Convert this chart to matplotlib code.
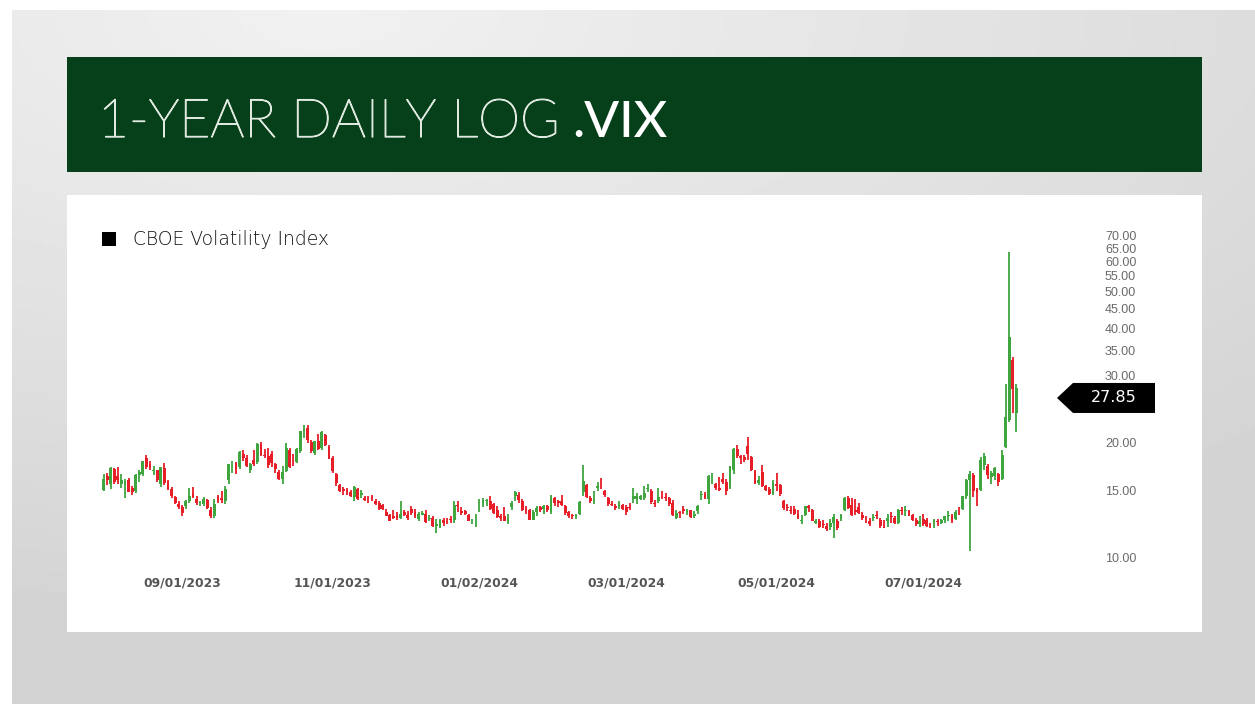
import numpy as np
import pandas as pd
import matplotlib
matplotlib.use("Agg")
import matplotlib.pyplot as plt
import matplotlib.patheffects as pe
from matplotlib.patches import Rectangle, Polygon

# ------------------------------------------------------------
# DATA  (daily OHLC of .VIX, Aug 2023 - Aug 2024)
# ------------------------------------------------------------

START = "2023-08-02"
END = "2024-08-07"
HOLIDAYS = ["2023-09-04", "2023-11-23", "2023-12-25", "2024-01-01", "2024-01-15",
            "2024-02-19", "2024-03-29", "2024-05-27", "2024-06-19", "2024-07-04"]

OPEN = [
    # Aug 2023
    15.0, 16.3, 15.6, 17.0, 16.3, 15.6, 15.5, 15.9, 15.2, 14.9, 16.4, 16.5, 18.2, 17.6, 16.8, 16.9, 15.6, 17.1, 15.8, 15.1, 14.4, 13.8,
    # Sep
    13.5, 13.6, 14.0, 14.7, 14.2, 13.8, 13.8, 14.1, 13.3, 12.8, 14.4, 14.3, 14.0, 15.9, 17.2, 17.7, 17.2, 18.7, 18.2, 16.9,
    # Oct
    18.0, 17.8, 19.7, 18.5, 18.4, 18.7, 17.6, 16.7, 16.0, 16.8, 19.1, 17.9, 17.8, 19.0, 21.5, 21.9, 20.1, 18.8, 20.2, 19.3, 21.0, 19.5,
    # Nov
    18.2, 16.5, 15.5, 15.1, 15.0, 14.8, 14.4, 15.1, 14.6, 14.3, 14.2, 14.4, 14.0, 13.9, 13.7, 13.1, 12.9, 12.8, 12.9, 12.7, 13.1,
    # Dec
    12.9, 13.4, 13.1, 12.6, 12.9, 13.0, 12.6, 12.7, 12.1, 12.0, 12.5, 12.6, 12.6, 12.5, 13.7, 13.2, 13.2, 12.9, 12.4, 12.4,
    # Jan 2024
    13.2, 13.9, 14.0, 14.0, 13.8, 13.3, 12.8, 12.8, 12.4, 13.5, 14.5, 14.6, 14.0, 13.3, 13.3, 12.5, 13.1, 13.5, 13.4, 13.6, 13.1,
    # Feb
    14.3, 14.0, 14.0, 13.6, 13.1, 12.9, 12.8, 13.0, 14.8, 15.5, 14.3, 14.0, 15.2, 15.4, 14.9, 14.3, 13.8, 13.6, 13.6, 13.7,
    # Mar
    13.5, 13.5, 14.2, 14.2, 14.2, 14.3, 15.1, 14.9, 13.9, 14.0, 14.5, 14.4, 14.3, 13.9, 12.7, 13.1, 13.4, 13.1, 13.3, 12.8,
    # Apr
    13.2, 14.6, 14.6, 14.2, 16.0, 15.6, 15.2, 16.0, 15.8, 15.3, 16.9, 19.2, 18.4, 18.3, 19.6, 18.3, 16.8, 15.7, 16.7, 15.4, 15.1, 14.7,
    # May
    15.6, 15.5, 14.0, 13.5, 13.3, 13.4, 13.0, 12.4, 12.9, 13.6, 13.3, 12.3, 12.4, 12.2, 12.1, 12.0, 12.3, 12.4, 12.6, 13.3, 14.3, 13.7,
    # Jun
    13.3, 13.5, 12.9, 12.6, 12.4, 12.7, 12.9, 12.5, 12.0, 12.4, 12.8, 12.7, 12.3, 13.3, 13.2, 13.2, 12.9, 12.5, 12.2,
    # Jul
    12.6, 12.5, 12.1, 12.3, 12.4, 12.3, 12.5, 12.8, 12.8, 12.6, 13.2, 13.4, 14.5, 15.9, 16.4, 15.0, 15.0, 17.5, 17.4, 16.2, 16.3, 16.5,
    # Aug 2024
    16.0, 19.5, 23.0, 33.0, 24.0,
]

HIGH = [
    16.5, 16.6, 17.3, 17.1, 17.2, 16.5, 16.0, 16.1, 15.4, 16.5, 16.9, 17.9, 18.5, 17.9, 17.4, 16.9, 17.3, 17.7, 15.9, 15.3, 14.5, 14.0,
    13.7, 14.1, 15.2, 15.3, 14.5, 14.0, 14.4, 14.2, 13.5, 14.2, 14.6, 14.9, 15.4, 17.6, 17.9, 17.8, 19.0, 19.1, 18.5, 17.7,
    19.1, 19.9, 20.1, 19.2, 19.3, 19.0, 17.7, 16.9, 17.4, 20.0, 19.3, 18.7, 19.3, 21.5, 22.3, 22.2, 20.3, 20.2, 21.1, 21.4, 21.1, 19.7,
    18.4, 16.6, 15.6, 15.3, 15.2, 15.0, 15.4, 15.2, 15.0, 14.5, 14.5, 14.6, 14.2, 14.0, 13.8, 13.4, 13.0, 13.3, 13.1, 14.0, 13.3,
    13.2, 13.6, 13.4, 13.1, 13.2, 13.3, 12.9, 12.8, 12.6, 12.6, 12.7, 12.7, 12.8, 14.0, 14.0, 13.5, 13.3, 13.0, 12.6, 13.0,
    14.2, 14.3, 14.2, 14.5, 13.9, 13.6, 13.0, 13.5, 13.0, 14.0, 14.9, 14.8, 14.2, 13.6, 13.4, 13.3, 13.6, 13.6, 13.7, 13.7, 14.6,
    14.4, 14.1, 14.6, 13.7, 13.2, 13.0, 13.0, 14.0, 17.5, 15.6, 14.5, 14.9, 15.8, 16.1, 15.0, 14.4, 14.0, 13.8, 14.0, 13.8,
    13.7, 13.9, 15.2, 14.7, 14.6, 15.4, 15.6, 15.1, 14.1, 15.2, 14.9, 14.7, 14.4, 14.1, 13.3, 13.2, 13.6, 13.4, 13.3, 13.2,
    13.7, 14.9, 14.8, 16.4, 16.6, 15.7, 16.2, 16.6, 16.0, 17.4, 19.4, 19.7, 18.6, 18.6, 20.7, 18.4, 16.9, 16.3, 17.5, 15.5, 15.3, 15.9,
    16.6, 15.6, 14.1, 13.8, 13.6, 13.6, 13.3, 12.9, 13.6, 13.7, 13.4, 12.6, 12.6, 12.5, 12.3, 12.6, 13.0, 12.6, 13.0, 14.4, 14.5, 14.3,
    14.2, 13.9, 13.1, 12.8, 12.7, 13.0, 13.2, 12.7, 12.5, 13.0, 13.1, 12.8, 13.4, 13.5, 13.6, 13.3, 13.0, 12.7, 12.8,
    13.0, 12.7, 12.3, 12.6, 12.6, 12.6, 12.8, 13.2, 13.0, 13.3, 13.5, 14.5, 16.0, 16.8, 16.6, 15.2, 18.3, 18.8, 17.6, 16.8, 17.3, 16.6,
    19.1, 28.6, 63.5, 33.6, 28.6,
]

LOW = [
    14.9, 15.5, 15.1, 15.6, 15.6, 15.2, 14.3, 14.8, 14.6, 14.7, 15.8, 16.3, 17.0, 16.9, 16.4, 15.8, 15.3, 15.5, 15.0, 14.3, 13.8, 13.4,
    12.8, 13.4, 13.9, 14.3, 13.7, 13.6, 13.6, 13.4, 12.7, 12.7, 13.9, 13.9, 13.8, 15.6, 16.6, 16.5, 17.0, 17.9, 17.2, 16.6,
    17.4, 17.6, 18.4, 18.2, 17.1, 17.3, 16.6, 15.9, 15.6, 16.7, 17.1, 17.4, 17.7, 18.8, 20.6, 19.9, 18.8, 18.6, 19.1, 19.1, 19.6, 18.1,
    16.6, 15.4, 14.8, 14.6, 14.6, 14.4, 14.0, 14.1, 14.3, 14.0, 13.9, 14.0, 13.7, 13.3, 13.3, 12.8, 12.4, 12.6, 12.5, 12.6, 12.8,
    12.5, 12.9, 12.7, 12.4, 12.9, 12.3, 12.4, 12.0, 11.6, 11.9, 12.1, 12.2, 12.3, 12.3, 13.1, 12.9, 12.9, 12.4, 12.2, 12.0,
    13.1, 13.5, 13.6, 13.3, 13.0, 12.7, 12.4, 12.4, 12.2, 13.3, 14.0, 13.9, 13.2, 13.0, 12.5, 12.5, 12.8, 13.1, 13.0, 13.1, 13.0,
    13.6, 13.5, 13.6, 12.9, 12.7, 12.6, 12.6, 12.9, 14.5, 14.3, 13.9, 13.8, 14.9, 15.1, 14.4, 13.6, 13.6, 13.3, 13.4, 13.3,
    12.9, 13.3, 13.9, 13.8, 14.1, 14.1, 14.8, 13.8, 13.5, 13.9, 14.2, 14.0, 13.6, 12.8, 12.6, 12.7, 13.0, 12.9, 12.7, 12.7,
    13.0, 14.1, 14.2, 13.8, 15.6, 15.0, 14.9, 15.6, 14.6, 15.1, 16.5, 18.2, 17.6, 17.8, 18.0, 16.8, 15.6, 15.5, 15.3, 14.9, 14.6, 14.6,
    14.9, 14.5, 13.3, 13.2, 13.0, 12.9, 12.6, 12.2, 12.8, 13.1, 12.4, 12.2, 11.9, 11.9, 11.7, 11.8, 11.2, 11.8, 12.4, 13.2, 13.4, 12.8,
    12.9, 13.0, 12.5, 12.3, 12.1, 12.4, 12.6, 11.9, 11.9, 12.0, 12.3, 12.2, 12.2, 12.9, 12.8, 12.8, 12.4, 12.1, 12.0,
    12.1, 12.0, 11.9, 11.9, 12.1, 12.2, 12.3, 12.4, 12.3, 12.5, 12.9, 13.3, 14.2, 10.4, 14.4, 13.6, 14.9, 16.9, 16.0, 15.6, 15.9, 15.4,
    15.9, 19.3, 22.7, 23.9, 21.3,
]

CLOSE = [
    16.09, 15.92, 17.10, 15.77, 15.99, 15.96, 15.85, 14.84, 14.82, 16.46, 16.78, 17.89, 17.30, 17.13, 16.97, 15.98, 17.20, 15.68, 15.08, 14.45, 13.88, 13.57,
    13.09, 14.02, 14.45, 14.40, 13.84, 13.80, 14.23, 13.48, 12.82, 13.79, 14.00, 14.11, 15.14, 17.54, 17.20, 16.90, 18.94, 18.22, 17.34, 17.52,
    17.61, 19.78, 18.58, 18.49, 17.45, 17.70, 17.03, 16.09, 16.69, 19.32, 17.21, 17.88, 19.22, 21.40, 21.71, 20.37, 18.97, 20.19, 19.22, 21.27, 19.75, 18.14,
    16.87, 15.66, 14.91, 14.89, 14.81, 14.45, 15.29, 14.17, 14.76, 14.16, 14.18, 14.32, 13.80, 13.41, 13.35, 12.85, 12.46, 12.69, 12.69, 12.98, 12.92,
    12.63, 13.08, 12.85, 12.97, 13.06, 12.35, 12.63, 12.07, 12.19, 12.48, 12.28, 12.56, 12.53, 13.67, 13.65, 13.03, 12.99, 12.43, 12.47, 12.45,
    13.20, 14.04, 14.13, 13.35, 13.08, 12.76, 12.69, 12.44, 12.70, 13.84, 14.79, 14.13, 13.30, 13.19, 12.55, 13.14, 13.45, 13.26, 13.60, 13.31, 14.35,
    13.88, 13.85, 13.67, 13.06, 12.83, 12.79, 12.93, 13.93, 15.85, 14.38, 14.01, 14.24, 15.42, 15.34, 14.54, 13.75, 13.74, 13.43, 13.84, 13.40,
    13.11, 13.49, 14.46, 14.50, 14.44, 14.74, 15.23, 13.97, 13.75, 14.40, 14.41, 14.33, 13.82, 12.92, 13.06, 13.06, 13.19, 13.24, 12.78, 13.01,
    13.65, 14.61, 14.33, 16.35, 16.03, 15.19, 14.98, 15.80, 14.91, 17.31, 19.23, 18.40, 18.21, 18.00, 18.71, 16.94, 15.69, 15.97, 15.37, 15.03, 14.67, 15.65,
    15.39, 14.68, 13.49, 13.49, 13.23, 13.00, 12.69, 12.55, 13.60, 13.42, 12.45, 12.42, 11.99, 12.15, 11.86, 12.29, 12.77, 11.93, 12.92, 14.28, 13.49, 12.92,
    13.11, 13.06, 12.63, 12.58, 12.22, 12.74, 12.85, 12.04, 11.94, 12.66, 12.75, 12.30, 13.28, 13.20, 13.33, 12.84, 12.55, 12.24, 12.44,
    12.22, 12.03, 12.09, 12.48, 12.37, 12.51, 12.85, 12.89, 12.46, 13.12, 13.19, 14.48, 15.93, 16.52, 14.91, 14.72, 18.04, 18.46, 16.39, 16.60, 17.10, 15.80,
    18.59, 23.39, 38.00, 27.71, 27.85,
]

TICK_DATES = ["2023-09-01", "2023-11-01", "2024-01-02", "2024-03-01", "2024-05-01", "2024-07-01"]
TICK_LABELS = ["09/01/2023", "11/01/2023", "01/02/2024", "03/01/2024", "05/01/2024", "07/01/2024"]

Y_TICKS = [10, 15, 20, 30, 35, 40, 45, 50, 55, 60, 65, 70]

TITLE_LIGHT = "1-YEAR DAILY LOG"
TITLE_BOLD = ".VIX"
SERIES_NAME = "CBOE Volatility Index"

# ------------------------------------------------------------
# STYLE
# ------------------------------------------------------------

W, H = 1255, 704
GREEN = "#3fa53f"
RED = "#e61e28"
BAR_GREEN = "#05401a"


def px(x0, y0, x1, y1):
    """pixel box (top-left origin) -> figure fraction rect"""
    return [x0 / W, 1 - y1 / H, (x1 - x0) / W, (y1 - y0) / H]


def main() -> None:
    dates = pd.bdate_range(START, END, freq="C", holidays=HOLIDAYS)
    df = pd.DataFrame({"open": OPEN, "high": HIGH, "low": LOW, "close": CLOSE}, index=dates)
    x = np.arange(len(df))
    up = df["close"] >= df["open"]
    colors = np.where(up, GREEN, RED)

    fig = plt.figure(figsize=(W / 100, H / 100), dpi=100)
    fig.patch.set_facecolor("white")

    # slide background gradient
    bg = fig.add_axes(px(12, 10, W, H))
    bg.set_zorder(-5)
    gx, gy = np.meshgrid(np.linspace(0, 1, 300), np.linspace(0, 1, 200))
    dist = np.clip(np.sqrt((gx - 0.25) ** 2 * 0.8 + (gy - 0.0) ** 2 * 1.2), 0, 1)
    bg.imshow(0.945 - 0.12 * dist, cmap="gray", vmin=0, vmax=1, aspect="auto",
              extent=(0, 1, 1, 0))
    bg.axis("off")

    # title bar and white panel
    x0, y0, w0, h0 = px(67, 57, 1202, 172)
    fig.patches.append(Rectangle((x0, y0), w0, h0, transform=fig.transFigure,
                                 facecolor=BAR_GREEN, edgecolor="none", zorder=1))
    x0, y0, w0, h0 = px(67, 195, 1202, 632)
    fig.patches.append(Rectangle((x0, y0), w0, h0, transform=fig.transFigure,
                                 facecolor="white", edgecolor="none", zorder=1))

    light_col = "#dfe9df"
    t1 = fig.text(98 / W, 1 - 137 / H, TITLE_LIGHT, family="Lato", fontweight="light",
                  fontsize=38.5, color=light_col, va="baseline", ha="left", zorder=3,
                  path_effects=[pe.withStroke(linewidth=0.9, foreground=light_col)])
    fig.canvas.draw()
    bb = t1.get_window_extent()
    fig.text((bb.x1 + 12) / W, 1 - 137 / H, TITLE_BOLD, family="Lato", fontweight="medium",
             fontsize=37, color="white", va="baseline", ha="left", zorder=3)

    # legend
    x0, y0, w0, h0 = px(102, 232, 116, 246)
    fig.patches.append(Rectangle((x0, y0), w0, h0, transform=fig.transFigure,
                                 facecolor="black", edgecolor="none", zorder=3))
    fig.text(133 / W, 1 - 240 / H, SERIES_NAME, family="DejaVu Sans", fontweight="light",
             fontsize=13.5, color="#111111", va="center", ha="left", zorder=3)

    # price chart
    ax = fig.add_axes(px(80, 215, 1098, 570))
    ax.set_zorder(2)
    ax.patch.set_alpha(0)
    ax.set_yscale("log")
    spacing = 3.58
    ax.set_xlim(-(103.5 - 80) / spacing, (1098 - 103.5) / spacing)
    ax.set_ylim(10 ** (1 - (570 - 557) / 380), 10 ** (1 + (557 - 215) / 380))

    ax.vlines(x, df["low"], df["high"], colors=colors, linewidth=1.3)
    body_lo = np.minimum(df["open"], df["close"])
    body_hi = np.maximum(df["open"], df["close"])
    ax.bar(x, body_hi - body_lo, bottom=body_lo, width=0.8, color=colors, linewidth=0)

    ax.yaxis.tick_right()
    ax.set_yticks(Y_TICKS)
    ax.set_yticklabels([f"{v:.2f}" for v in Y_TICKS], family="Liberation Sans",
                       fontsize=9, color="#6a6a6a")
    ax.yaxis.set_minor_locator(matplotlib.ticker.NullLocator())
    tick_pos = [dates.get_loc(pd.Timestamp(d)) for d in TICK_DATES]
    ax.set_xticks(tick_pos)
    ax.set_xticklabels(TICK_LABELS, family="DejaVu Sans", fontweight="bold",
                       fontsize=8.8, color="#555555")
    ax.tick_params(axis="both", length=0)
    ax.tick_params(axis="x", pad=5)
    ax.tick_params(axis="y", pad=5)
    for s in ax.spines.values():
        s.set_visible(False)

    # last-price callout, sitting just under the 30.00 label
    last = df["close"].iloc[-1]
    fig.canvas.draw()
    ax_right = ax.get_window_extent().x1
    yc = ax.transData.transform((0, last))[1] - 10
    tip, left, right, half = ax_right - 41, ax_right - 25, ax_right + 57, 15
    verts = [(tip, yc), (left, yc + half), (right, yc + half), (right, yc - half), (left, yc - half)]
    verts = [(vx / W, vy / H) for vx, vy in verts]
    fig.patches.append(Polygon(verts, closed=True, transform=fig.transFigure,
                               facecolor="black", edgecolor="none", zorder=5))
    fig.text(((left + right) / 2) / W, yc / H, f"{last:.2f}", color="white",
             fontsize=11.5, family="DejaVu Sans", ha="center", va="center", zorder=6)

    fig.savefig("out.png", dpi=100)


if __name__ == "__main__":
    main()
